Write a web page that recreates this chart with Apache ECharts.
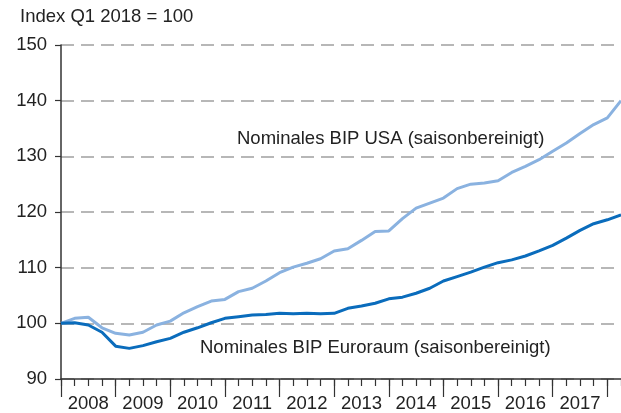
<!DOCTYPE html>
<html>
<head>
<meta charset="utf-8">
<script src="https://cdn.jsdelivr.net/npm/echarts@6/dist/echarts.min.js"></script>
<style>
html,body{margin:0;padding:0;background:#fff;}
#c{width:621px;height:413px;}
</style>
</head>
<body>
<div id="c"></div>
<script>
var quarters = [];
for (var y = 2008; y <= 2018; y++) {
  for (var q = 1; q <= 4; q++) {
    if (y === 2018 && q > 2) break;
    quarters.push(y + ' Q' + q);
  }
}
var usa = [100.0,100.9,101.1,99.2,98.2,97.9,98.4,99.7,100.4,101.9,103.0,104.0,104.3,105.7,106.3,107.6,109.1,110.1,110.8,111.6,113.0,113.4,114.9,116.5,116.6,118.8,120.7,121.6,122.5,124.2,125.0,125.2,125.6,127.1,128.2,129.4,130.9,132.4,134.1,135.7,136.9,140.0];
var euro = [100.0,100.1,99.7,98.4,95.9,95.5,96.0,96.7,97.3,98.4,99.2,100.1,100.9,101.2,101.5,101.6,101.8,101.7,101.8,101.7,101.8,102.7,103.1,103.6,104.4,104.7,105.4,106.3,107.6,108.4,109.2,110.1,110.9,111.4,112.1,113.0,114.0,115.3,116.7,117.9,118.6,119.5];
var yTicks = [90, 150, 10];
var titleText = 'Index Q1 2018 = 100';
var usaLabel = 'Nominales BIP USA (saisonbereinigt)';
var euroLabel = 'Nominales BIP Euroraum (saisonbereinigt)';

var FONT = '"Liberation Sans", Arial, sans-serif';
var FS = 18.5;
var TXT = '#222';
var chart = echarts.init(document.getElementById('c'), null, {renderer: 'canvas'});
chart.setOption({
  animation: false,
  backgroundColor: '#fff',
  grid: {left: 61, right: 0, top: 45, bottom: 33, containLabel: false},
  xAxis: [{
    type: 'category', data: quarters, boundaryGap: false,
    axisLine: {show: true, lineStyle: {color: '#333', width: 1.5}},
    axisTick: {show: true, interval: 0, length: 7, lineStyle: {color: '#333', width: 1.2}},
    axisLabel: {show: false},
    splitLine: {show: false}
  }, {
    type: 'category', data: quarters, boundaryGap: false, position: 'bottom',
    axisLine: {show: false},
    axisTick: {show: true, length: 18, interval: function (i) { return i % 4 === 0; }, lineStyle: {color: '#333', width: 1.2}},
    axisLabel: {show: true, interval: function (i) { return i % 4 === 2; }, margin: 15,
      formatter: function (v) { return v.slice(0, 4); },
      color: TXT, fontSize: FS, fontFamily: FONT},
    splitLine: {show: false}
  }],
  yAxis: {
    type: 'value', min: yTicks[0], max: yTicks[1], interval: yTicks[2],
    axisLine: {show: true, lineStyle: {color: '#333', width: 1.5}},
    axisTick: {show: true, length: 6, lineStyle: {color: '#333', width: 1.2}},
    axisLabel: {color: TXT, fontSize: FS, fontFamily: FONT, margin: 14},
    splitLine: {show: true, lineStyle: {color: '#a0a0a0', width: 1.5, type: [13, 7]}}
  },
  series: [{
    type: 'line', data: usa, xAxisIndex: 0, showSymbol: false, symbol: 'none',
    lineStyle: {color: '#8ab2e0', width: 3}, z: 3
  }, {
    type: 'line', data: euro, xAxisIndex: 0, showSymbol: false, symbol: 'none',
    lineStyle: {color: '#0a6cbc', width: 3}, z: 4
  }],
  graphic: [
    {type: 'text', left: 20, top: 7, style: {text: titleText, fill: TXT, font: FS + 'px ' + FONT}},
    {type: 'text', left: 237, top: 129, style: {text: usaLabel, fill: TXT, font: FS + 'px ' + FONT}},
    {type: 'text', left: 200, top: 338, style: {text: euroLabel, fill: TXT, font: FS + 'px ' + FONT}}
  ]
});
</script>
</body>
</html>
